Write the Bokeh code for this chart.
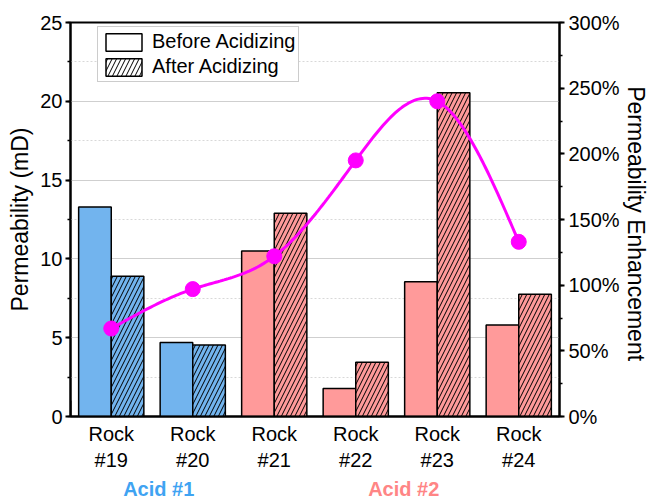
import numpy as np
from bokeh.plotting import figure
from bokeh.layouts import column, row
from bokeh.models import (Range1d, LinearAxis, FixedTicker, SingleIntervalTicker,
                          PrintfTickFormatter, Legend, LegendItem, ColumnDataSource)
from bokeh.core.properties import value
from bokeh.embed import file_html
from bokeh.resources import INLINE

# ---- data ----
rocks = ["Rock\n#19", "Rock\n#20", "Rock\n#21", "Rock\n#22", "Rock\n#23", "Rock\n#24"]
before = [13.3, 4.7, 10.5, 1.78, 8.55, 5.8]
after = [8.9, 4.53, 12.9, 3.45, 20.55, 7.75]
enhancement = [67, 97, 122, 195, 240, 133]   # percent
acid_names = ["Acid #1", "Acid #2"]
acid_groups = [[0, 1], [2, 3, 4, 5]]
bar_colors = ["#72B4EE", "#72B4EE", "#FF9A9A", "#FF9A9A", "#FF9A9A", "#FF9A9A"]
acid_colors = ["#3FA3F2", "#FF8585"]
left_label = "Permeability (mD)"
right_label = "Permeability Enhancement"

FONT = "Liberation Sans"
HATCH = dict(hatch_pattern="/", hatch_color="black", hatch_scale=9, hatch_weight=1)
pos = np.arange(1, len(rocks) + 1, dtype=float)

P_W, P_H, R_W = 622, 476, 26

p = figure(width=P_W, height=P_H, x_range=Range1d(0.5, 6.5), y_range=Range1d(0, 25),
           output_backend="svg", toolbar_location=None,
           min_border_left=70, min_border_right=P_W - 560, min_border_top=22, min_border_bottom=60)
p.extra_y_ranges = {"pct": Range1d(0, 300)}

src = ColumnDataSource(dict(xb=pos - 0.2, xa=pos + 0.2, before=before, after=after, color=bar_colors))
p.vbar(x="xb", top="before", width=0.4, source=src, fill_color="color",
       line_color="black", line_width=1.5)
p.vbar(x="xa", top="after", width=0.4, source=src, fill_color="color",
       line_color="black", line_width=1.5, **HATCH)

# legend proxies (drawn outside the visible x range)
r_b = p.vbar(x=[-10], top=[1], width=0.4, fill_color="white", line_color="black", line_width=1.5)
r_a = p.vbar(x=[-10], top=[1], width=0.4, fill_color="white", line_color="black", line_width=1.5, **HATCH)

# smooth curve (natural cubic spline through the measured points, drawing only)
y = np.array(enhancement, dtype=float)
n = len(y)
A = np.zeros((n, n)); b = np.zeros(n)
A[0, 0] = 1; A[-1, -1] = 1
for i in range(1, n - 1):
    A[i, i - 1] = 1; A[i, i] = 4; A[i, i + 1] = 1
    b[i] = 6 * (y[i - 1] - 2 * y[i] + y[i + 1])
M = np.linalg.solve(A, b)
xs, ys = [], []
for i in range(n - 1):
    t = np.linspace(0, 1, 40)
    a0 = y[i]; a1 = (y[i + 1] - y[i]) - (2 * M[i] + M[i + 1]) / 6
    a2 = M[i] / 2; a3 = (M[i + 1] - M[i]) / 6
    xs.extend(pos[i] + t); ys.extend(a0 + a1 * t + a2 * t ** 2 + a3 * t ** 3)
p.line(xs, ys, y_range_name="pct", line_color="#FF00FF", line_width=3)
p.scatter(pos, enhancement, y_range_name="pct", size=15, fill_color="#FF00FF", line_color="#FF00FF")

# axes
ya = p.yaxis[0]
ya.ticker = SingleIntervalTicker(interval=5, num_minor_ticks=2)
ya.axis_label = left_label
ra = LinearAxis(y_range_name="pct", ticker=SingleIntervalTicker(interval=50, num_minor_ticks=2),
                formatter=PrintfTickFormatter(format="%d%%"))
p.add_layout(ra, "right")
for ax in (ya, ra):
    ax.major_tick_in = 0; ax.major_tick_out = 5
    ax.minor_tick_in = 0; ax.minor_tick_out = 3
    ax.major_tick_line_width = 2; ax.minor_tick_line_width = 1.5
    ax.major_label_text_font_size = "20px"
    ax.axis_label_text_font_size = "23px"
    ax.axis_label_text_font_style = "normal"
ya.major_label_standoff = 3
ya.axis_label_standoff = 4
ra.major_label_standoff = 4

xa = p.xaxis[0]
xa.ticker = FixedTicker(ticks=list(pos))
xa.major_label_overrides = {float(v): r for v, r in zip(pos, rocks)}
xa.major_tick_line_color = None
xa.minor_tick_line_color = None
xa.major_label_text_font_size = "20px"
xa.major_label_standoff = 0

for ax in p.axis:
    ax.axis_line_width = 2
    ax.axis_line_color = "black"
    ax.major_label_text_font = FONT
    ax.axis_label_text_font = FONT
    ax.major_label_text_color = "black"
    ax.axis_label_text_color = "black"

p.xgrid.visible = False
p.ygrid.grid_line_color = "#CFCFCF"
p.ygrid.grid_line_width = 1
p.ygrid.minor_grid_line_color = "#D8D8D8"
p.ygrid.minor_grid_line_dash = "2 2"
p.outline_line_color = "black"
p.outline_line_width = 2
p.outline_line_alpha = 1

legend = Legend(items=[LegendItem(label="Before Acidizing", renderers=[r_b]),
                       LegendItem(label="After Acidizing", renderers=[r_a])],
                location=(27, 334), glyph_width=45, glyph_height=22, padding=3, spacing=2,
                label_standoff=6, label_text_font=FONT, label_text_font_size="20px",
                label_text_color="black",
                border_line_color="#999999", border_line_width=1, background_fill_alpha=1,
                label_height=22, margin=0)
p.add_layout(legend)

# narrow strip to the right carrying the right-axis title (reads top to bottom)
p3 = figure(width=R_W, height=P_H, x_range=Range1d(0, R_W), y_range=Range1d(0, P_H),
            output_backend="svg", toolbar_location=None,
            x_axis_location=None, y_axis_location=None, min_border=0)
p3.grid.visible = False
p3.outline_line_color = None
p3.text(x=[13.5], y=[P_H - 243], text=[right_label], angle=-np.pi / 2, text_color="black",
        text_align="center", text_baseline="middle", text_font=value(FONT),
        text_font_size="23px")

# strip below the chart for the acid group labels (same x scale as the chart)
p2 = figure(width=P_W + R_W, height=25, x_range=p.x_range, y_range=Range1d(0, 1),
            output_backend="svg", toolbar_location=None,
            x_axis_location=None, y_axis_location=None,
            min_border_left=70, min_border_right=P_W + R_W - 560, min_border_top=0, min_border_bottom=0)
p2.grid.visible = False
p2.outline_line_color = None
gx = [float(np.mean([pos[i] for i in g])) + 0.08 for g in acid_groups]
p2.text(x=gx, y=[0.5, 0.5], text=acid_names, text_color=acid_colors,
        text_align="center", text_baseline="middle", text_font=value(FONT),
        text_font_size="20px", text_font_style="bold")

layout = column(row(p, p3, spacing=0), p2, spacing=0)
open("out.html", "w").write(file_html(layout, INLINE))
